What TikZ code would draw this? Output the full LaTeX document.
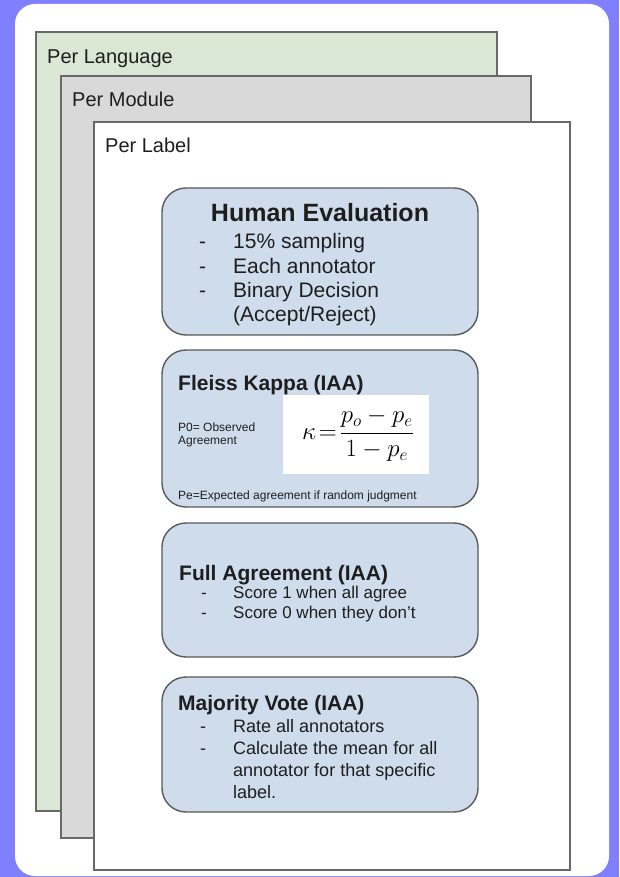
\documentclass[tikz,border=0pt]{standalone}
\usepackage{fontspec}
\setmainfont{Liberation Sans}
\definecolor{bgblue}{RGB}{128,128,255}
\definecolor{langgreen}{RGB}{218,231,212}
\definecolor{modgray}{RGB}{217,217,217}
\definecolor{cardblue}{RGB}{207,220,236}
\definecolor{edgegray}{RGB}{105,105,105}
\definecolor{boxedge}{RGB}{90,90,90}
\definecolor{ink}{RGB}{30,30,30}
\tikzset{
  layer/.style={draw=edgegray, line width=1.4pt, inner sep=0pt},
  card/.style={draw=boxedge, fill=cardblue, line width=1.4pt, rounded corners=24pt},
  txt/.style={anchor=base west, inner sep=0pt, text=ink},
  head/.style={txt, font=\fontsize{21}{25}\selectfont\bfseries},
  tier/.style={txt, font=\fontsize{20}{24}\selectfont},
}
\begin{document}
\begin{tikzpicture}[x=1pt, y=-1pt]
  \useasboundingbox (0,0) rectangle (619,877);
  % background and white panel
  \fill[bgblue] (0,0) rectangle (619,877);
  \fill[white, rounded corners=20pt] (15,4) rectangle (609,876);

  % stacked scopes
  \draw[layer, fill=langgreen] (36,32) rectangle (497,811);
  \draw[layer, fill=modgray] (61,76) rectangle (531,838);
  \draw[layer, fill=white] (94,122) rectangle (570,870);
  \node[tier] (lang) at (47,64) {Per Language};
  \node[tier] (module) at (72,107) {Per Module};
  \node[tier] (label) at (105,153) {Per Label};

  % evaluation cards
  \draw[card] (162,188) rectangle (478,335);
  \draw[card] (162,350) rectangle (478,507);
  \draw[card] (162,523) rectangle (478,657);
  \draw[card] (162,677) rectangle (478,812);

  % Human Evaluation
  \node[txt, anchor=base, font=\fontsize{25}{30}\selectfont\bfseries] (human) at (320,222) {Human Evaluation};
  \begin{scope}[every node/.style={txt, font=\fontsize{21}{25}\selectfont}]
    \node (h1d) at (199,248) {-};  \node (h1) at (233,248) {15\% sampling};
    \node (h2d) at (199,273) {-};  \node (h2) at (233,273) {Each annotator};
    \node (h3d) at (199,297) {-};  \node (h3) at (233,297) {Binary Decision};
    \node (h4) at (233,321) {(Accept/Reject)};
  \end{scope}

  % Fleiss Kappa
  \node[head] (fleiss) at (178,390) {Fleiss Kappa (IAA)};
  \fill[white] (283,395) rectangle (429,474);
  \node[inner sep=0pt, font=\fontsize{27}{32}\selectfont] (kappa) at (358,435)
    {$\displaystyle\kappa\mkern-3mu=\mkern-3mu\frac{p_o-p_e}{1-p_e}$};
  \begin{scope}[every node/.style={txt, font=\fontsize{12}{13}\selectfont}]
    \node (p0a) at (178,431) {P0= Observed};
    \node (p0b) at (178,444) {Agreement};
    \node (pe) at (178,499) {Pe=Expected agreement if random judgment};
  \end{scope}

  % Full Agreement
  \node[head] (full) at (179,580) {Full Agreement (IAA)};
  \begin{scope}[every node/.style={txt, font=\fontsize{17}{20}\selectfont}]
    \node (f1d) at (201,598) {-};  \node (f1) at (233,598) {Score 1 when all agree};
    \node (f2d) at (201,618) {-};  \node (f2) at (233,618) {Score 0 when they don't};
  \end{scope}

  % Majority Vote
  \node[head] (major) at (178,710) {Majority Vote (IAA)};
  \begin{scope}[every node/.style={txt, font=\fontsize{18}{22}\selectfont}]
    \node (m1d) at (200,732) {-};  \node (m1) at (233,732) {Rate all annotators};
    \node (m2d) at (200,754) {-};  \node (m2) at (233,754) {Calculate the mean for all};
    \node (m3) at (233,776) {annotator for that specific};
    \node (m4) at (233,798) {label.};
  \end{scope}
\end{tikzpicture}
\end{document}
